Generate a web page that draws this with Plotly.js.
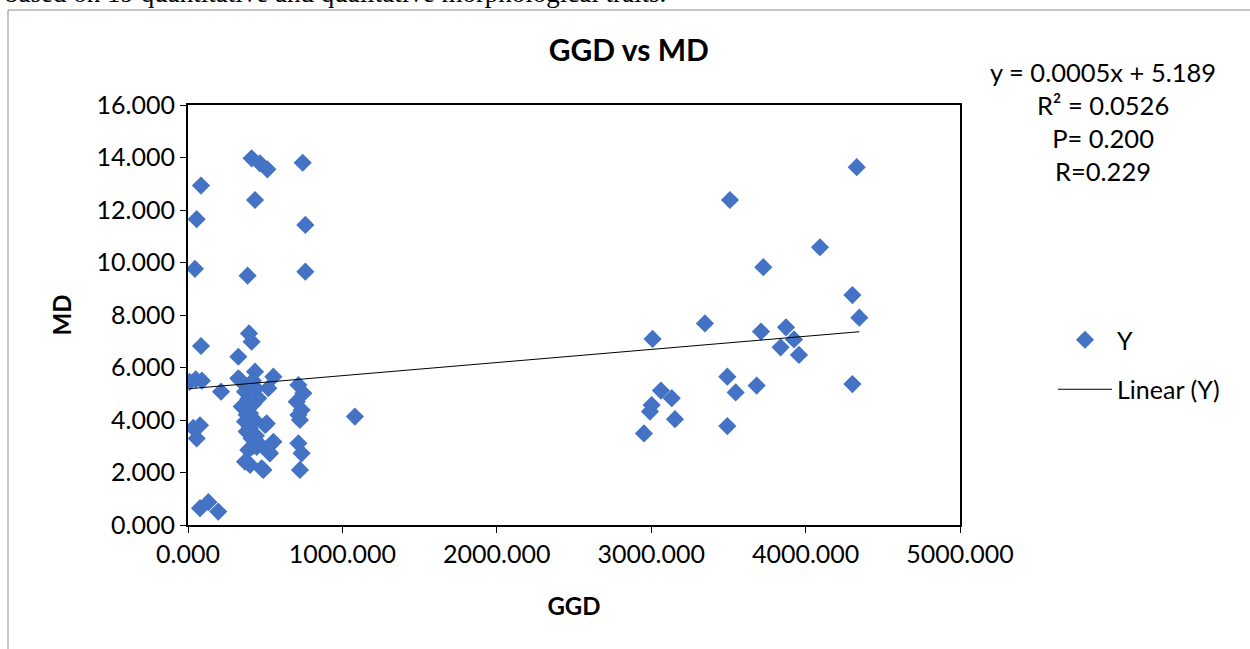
<!DOCTYPE html>
<html><head><meta charset="utf-8">
<script src="https://cdn.plot.ly/plotly-3.0.1.min.js"></script>
<style>html,body{margin:0;padding:0;background:#fff;overflow:hidden}#chart{width:1250px;height:649px}</style>
</head><body><div id="chart"></div>
<script>
// GGD (x) and MD (y) values
const ggd = [
  10, 50, 90, 214, 84, 56, 45,
  412, 466, 514, 743, 434, 760, 386, 760,
  395, 412, 84, 326, 337, 434, 326, 553,
  715, 747, 704, 736, 715, 725, 1081,
  34, 78, 56, 499, 553, 531, 715, 736,
  369, 402, 488, 725, 78, 132, 196,
  369, 520, 455, 348, 402, 510, 369, 380, 412, 445, 391, 520, 477,
  420, 400, 440, 390, 420, 380, 430, 400, 440, 460, 420,
  4331, 3510, 4093, 3726, 4303, 4348, 3348, 3009, 3711, 3873, 3925, 3838,
  3957, 3493, 3683, 4303, 3547, 3063, 3133, 3003, 2992, 3154, 3493, 2953
];
const md = [
  5.45, 5.55, 5.50, 5.08, 12.93, 11.65, 9.76,
  13.97, 13.78, 13.55, 13.80, 12.38, 11.43, 9.50, 9.65,
  7.30, 6.98, 6.82, 6.41, 5.52, 5.84, 5.59, 5.65,
  5.33, 5.02, 4.70, 4.38, 4.19, 4.00, 4.13,
  3.70, 3.80, 3.30, 3.81, 3.17, 2.73, 3.11, 2.73,
  2.41, 2.29, 2.10, 2.10, 0.64, 0.87, 0.51,
  5.08, 5.21, 4.83, 4.51, 4.25, 3.87, 3.94, 3.56, 3.30, 2.98, 2.86, 2.79, 2.16,
  5.50, 5.30, 5.20, 4.80, 4.60, 4.20, 4.00, 3.70, 3.40, 3.10, 3.00,
  13.63, 12.38, 10.58, 9.82, 8.76, 7.90, 7.68, 7.09, 7.37, 7.53, 7.07, 6.77,
  6.48, 5.65, 5.31, 5.37, 5.05, 5.12, 4.83, 4.57, 4.32, 4.03, 3.77, 3.49
];

// Linear trendline coefficients and statistics shown on the chart
const slope = 0.0005;
const intercept = 5.189;
const statsLines = ["y = 0.0005x + 5.189", "R\u00b2 = 0.0526", "P= 0.200", "R=0.229"];

// Tick values and labels
const xTickVals = [0, 1000, 2000, 3000, 4000, 5000];
const xTickText = ["0.000", "1000.000", "2000.000", "3000.000", "4000.000", "5000.000"];
const yTickVals = [0, 2, 4, 6, 8, 10, 12, 14, 16];
const yTickText = ["0.000", "2.000", "4.000", "6.000", "8.000", "10.000", "12.000", "14.000", "16.000"];

const captionText = "based on 19 quantitative and qualitative morphological traits.";

const xMin = Math.min(...ggd), xMax = Math.max(...ggd);
const trendX = [xMin, xMax];
const trendY = trendX.map(v => slope * v + intercept);

const FONT = "Lato, 'Open Sans', sans-serif";

const traces = [
  {
    x: ggd, y: md, type: "scatter", mode: "markers", name: "Y",
    legendgroup: "a",
    marker: {symbol: "diamond", size: 14, color: "#4472C4", line: {width: 0}}
  },
  {
    x: trendX, y: trendY, type: "scatter", mode: "lines", name: "Linear (Y)",
    legendgroup: "b",
    line: {color: "#000000", width: 1}
  }
];

const layout = {
  width: 1250, height: 649,
  margin: {l: 188, r: 290, t: 105, b: 124},
  paper_bgcolor: "#ffffff", plot_bgcolor: "#ffffff",
  font: {family: FONT, size: 25, color: "#000"},
  title: {
    text: "<b>GGD vs MD</b>", font: {family: FONT, size: 30, color: "#000"},
    xref: "paper", x: 0.571, xanchor: "center",
    yref: "container", y: 1 - 50 / 649, yanchor: "middle"
  },
  xaxis: {
    range: [0, 5000], tickvals: xTickVals, ticktext: xTickText,
    showgrid: false, zeroline: false,
    showline: true, linecolor: "#000", linewidth: 2, mirror: true,
    ticks: "outside", ticklen: 6, tickcolor: "#000", tickwidth: 1,
    tickfont: {family: FONT, size: 25, color: "#000"},
    title: {text: "<b>GGD</b>", font: {family: FONT, size: 24, color: "#000"}, standoff: 31},
    automargin: false
  },
  yaxis: {
    range: [0, 16], tickvals: yTickVals, ticktext: yTickText,
    showgrid: false, zeroline: false,
    showline: true, linecolor: "#000", linewidth: 2, mirror: true,
    ticks: "outside", ticklen: 6, tickcolor: "#000", tickwidth: 1,
    tickfont: {family: FONT, size: 25, color: "#000"},
    title: {text: "<b>MD</b>", font: {family: FONT, size: 24, color: "#000"}, standoff: 18},
    automargin: false
  },
  showlegend: true,
  legend: {
    x: (1053 - 188) / 772, xanchor: "left",
    y: (525 - 317) / 420, yanchor: "top",
    font: {family: FONT, size: 25, color: "#000"},
    traceorder: "grouped", tracegroupgap: 14, itemwidth: 54,
    bgcolor: "rgba(0,0,0,0)"
  },
  annotations: [
    {
      xref: "paper", yref: "paper",
      x: (1103 - 188) / 772, y: (525 - 55) / 420,
      xanchor: "center", yanchor: "top", align: "center",
      text: statsLines.join("<br>"), showarrow: false,
      font: {family: FONT, size: 25.5, color: "#000"}
    },
    {
      xref: "paper", yref: "paper",
      x: (3 - 188) / 772, y: (525 - 10) / 420,
      xanchor: "left", yanchor: "bottom",
      text: captionText, showarrow: false,
      font: {family: "'Liberation Serif', 'Times New Roman', serif", size: 27, color: "#000"}
    }
  ],
  shapes: [
    {
      type: "rect", xref: "paper", yref: "paper",
      x0: (8 - 188) / 772, x1: (1300 - 188) / 772,
      y0: (525 - 700) / 420, y1: (525 - 10) / 420,
      line: {color: "#8c8c8c", width: 1}, fillcolor: "rgba(0,0,0,0)", layer: "below"
    }
  ]
};

Plotly.newPlot("chart", traces, layout, {displayModeBar: false, responsive: false});
</script>
</body></html>
